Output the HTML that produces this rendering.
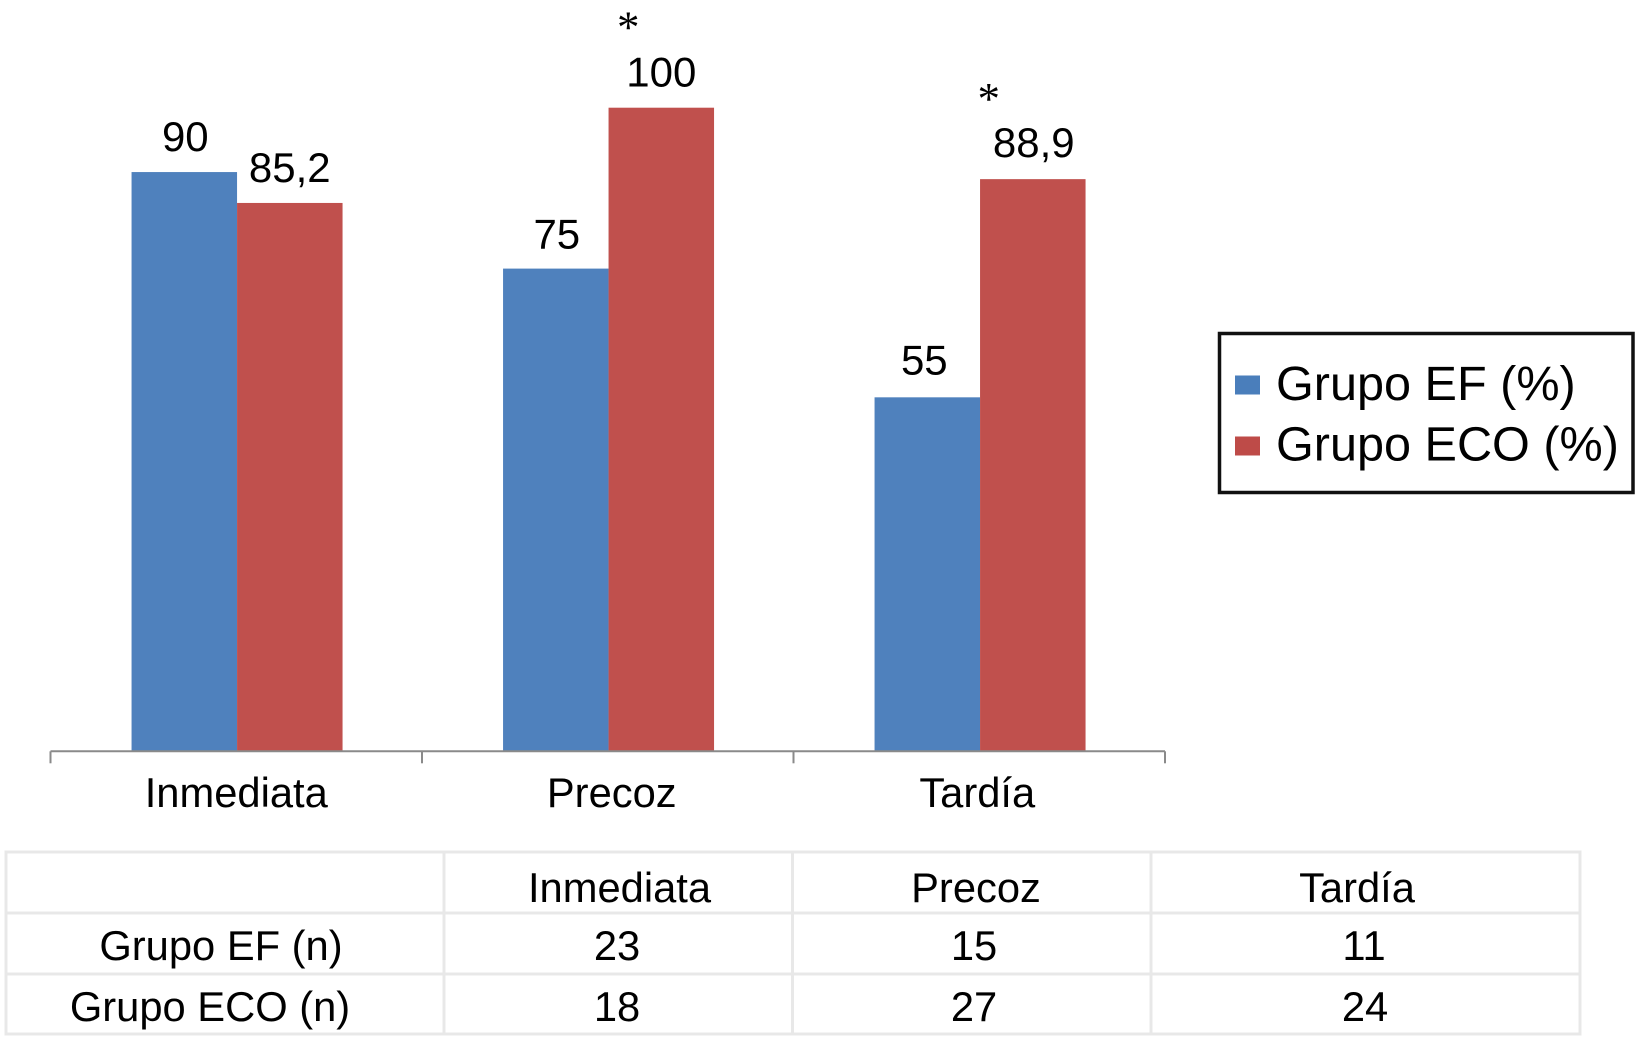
<!DOCTYPE html>
<html lang="es">
<head>
<meta charset="utf-8">
<title>Grupo EF vs Grupo ECO</title>
<style>
html,body{margin:0;padding:0;background:#fff;}
body{width:1635px;height:1050px;overflow:hidden;}
svg{display:block;}
text{font-family:"Liberation Sans",Arial,sans-serif;fill:#000;}
.lbl{font-size:41.7px;text-anchor:middle;}
.val{font-size:42px;text-anchor:middle;}
.leg{font-size:48.6px;}
.star{font-family:"Liberation Serif",serif;font-size:45px;text-anchor:middle;}
.grid{stroke:#e8e8e8;stroke-width:3;fill:none;}
</style>
</head>
<body>
<svg id="chart" xmlns="http://www.w3.org/2000/svg" width="1635" height="1050" viewBox="0 0 1635 1050">
  <g id="bars"></g>
  <g id="axis"></g>

  <g>
    <rect x="1219.5" y="333.5" width="413.5" height="159" fill="#fff" stroke="#111" stroke-width="3.5"/>
    <rect x="1235" y="375.5" width="25" height="19" fill="#4a7ebb"/>
    <text class="leg" x="1276" y="400">Grupo EF (%)</text>
    <rect x="1235" y="436.5" width="25" height="19" fill="#be4b48"/>
    <text class="leg" x="1276" y="460.5">Grupo ECO (%)</text>
  </g>

  <g>
    <rect class="grid" x="6" y="852" width="1574" height="182"/>
    <line class="grid" x1="6" x2="1580" y1="913" y2="913"/>
    <line class="grid" x1="6" x2="1580" y1="974" y2="974"/>
    <line class="grid" x1="444" x2="444" y1="852" y2="1034"/>
    <line class="grid" x1="792.5" x2="792.5" y1="852" y2="1034"/>
    <line class="grid" x1="1151" x2="1151" y1="852" y2="1034"/>

    <text class="lbl" x="619.5" y="902">Inmediata</text>
    <text class="lbl" x="976" y="902">Precoz</text>
    <text class="lbl" x="1357" y="902">Tardía</text>

    <text class="lbl" x="221" y="960">Grupo EF (n)</text>
    <text class="lbl" x="617" y="960">23</text>
    <text class="lbl" x="974" y="960">15</text>
    <text class="lbl" x="1364" y="960">11</text>

    <text class="lbl" x="210" y="1021">Grupo ECO (n)</text>
    <text class="lbl" x="617" y="1021">18</text>
    <text class="lbl" x="974" y="1021">27</text>
    <text class="lbl" x="1365" y="1021">24</text>
  </g>
</svg>
<script>
const categories = ["Inmediata", "Precoz", "Tardía"];
const grupoEF = [90, 75, 55];
const grupoECO = [85.2, 100, 88.9];
const significant = [false, true, true];

const NS = "http://www.w3.org/2000/svg";
const barsG = document.getElementById("bars");
const axisG = document.getElementById("axis");

const axisLeft = 50.5, axisRight = 1165, baseY = 751.3, unitPx = 6.436;
const barW = 105.5, barShift = 0.8;
const catLabelNudge = [0, 4, -2], starNudge = [0, -33, -44];
const efLabelNudgeX = [1, 1, -3], efLabelNudgeY = [0, 1, -2];
const ecoLabelNudgeX = [0, 0, 1], ecoLabelNudgeY = [0, 0, -1];
const band = (axisRight - axisLeft) / categories.length;

function xBand(i) { return axisLeft + i * band; }
function xCenter(i) { return xBand(i) + band / 2 + barShift; }
function yVal(v) { return baseY - v * unitPx; }
function fmt(v) { return String(v).replace(".", ","); }

function make(tag, attrs, parent) {
  const el = document.createElementNS(NS, tag);
  for (const k in attrs) el.setAttribute(k, attrs[k]);
  parent.appendChild(el);
  return el;
}

function drawBar(v, x, color, cat, series, nx, ny) {
  const y = yVal(v);
  const r = make("rect", { x: x, y: y, width: barW, height: baseY - y, fill: color }, barsG);
  
  
  const t = make("text", { x: x + barW / 2 + nx, y: y - 21 + ny, class: "val" }, barsG);
  
  
  t.textContent = fmt(v);
}

categories.forEach(function (c, i) {
  const key = c.toLowerCase();
  const cx = xCenter(i);
  drawBar(grupoEF[i], cx - barW, "#4f81bd", key, "ef", efLabelNudgeX[i], efLabelNudgeY[i]);
  drawBar(grupoECO[i], cx, "#c0504d", key, "eco", ecoLabelNudgeX[i], ecoLabelNudgeY[i]);
  if (significant[i]) {
    const s = make("text", { x: cx + barW / 2 + starNudge[i], y: yVal(grupoECO[i]) - 65, class: "star" }, barsG);
    
    
    s.textContent = "*";
  }
  const l = make("text", { x: xBand(i) + band / 2 + catLabelNudge[i], y: 807, class: "lbl" }, axisG);
  
  
  l.textContent = c;
});

const axisLine = make("line", { x1: axisLeft, x2: axisRight, y1: baseY, y2: baseY, stroke: "#8a8a8a", "stroke-width": 2 }, axisG);


for (let i = 0; i <= categories.length; i++) {
  const tick = make("line", { x1: xBand(i), x2: xBand(i), y1: baseY, y2: baseY + 12, stroke: "#8a8a8a", "stroke-width": 2 }, axisG);
  
  
}
</script>
</body>
</html>
